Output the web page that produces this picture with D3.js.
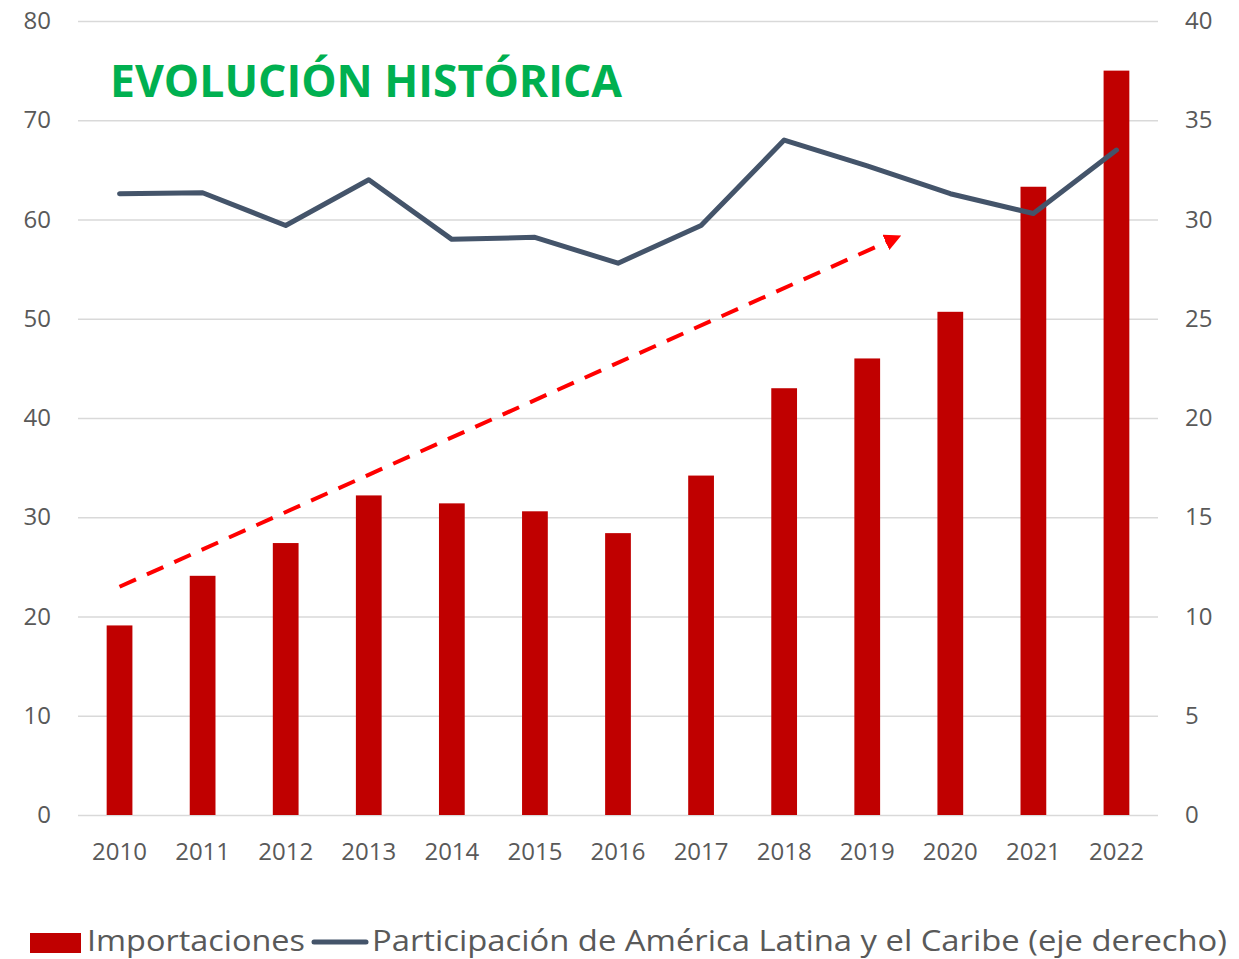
<!DOCTYPE html>
<html><head><meta charset="utf-8">
<script src="https://cdn.jsdelivr.net/npm/d3@7"></script>
<style>body{margin:0;background:#fff}svg{display:block}</style>
</head><body>
<script>
const years = ["2010","2011","2012","2013","2014","2015","2016","2017","2018","2019","2020","2021","2022"];
const importaciones = [19.1,24.1,27.4,32.2,31.4,30.6,28.4,34.2,43.0,46.0,50.7,63.3,75.0];
const participacion = [31.3,31.35,29.7,32.0,29.0,29.1,27.8,29.7,34.0,32.7,31.3,30.3,33.5];
const leftTicks = [0,10,20,30,40,50,60,70,80];
const rightTicks = [0,5,10,15,20,25,30,35,40];
// trend arrow: [category index, left-axis value]
const trendStart = [0, 23.0];
const trendEnd = [9.28, 57.9];
const title = "EVOLUCIÓN HISTÓRICA";
const legendLabels = ["Importaciones","Participación de América Latina y el Caribe (eje derecho)"];

const W = 1239, H = 959;
const m = {left:78, right:81, top:21, bottom:144};
const svg = d3.select("body").append("svg").attr("width",W).attr("height",H);
const x = d3.scaleBand().domain(years).range([m.left, W-m.right]).paddingInner(0.69).paddingOuter(0.345);
const xi = d3.scaleLinear().domain([0, years.length-1]).range([x(years[0])+x.bandwidth()/2, x(years[years.length-1])+x.bandwidth()/2]);
const yL = d3.scaleLinear().domain([0,80]).range([H-m.bottom, m.top]);
const yR = d3.scaleLinear().domain([0,40]).range([H-m.bottom, m.top]);
const font = "'Open Sans', 'Liberation Sans', sans-serif";
const txt = "#595959";

// gridlines
svg.append("g").attr("class","grid")
  .call(d3.axisLeft(yL).tickValues(leftTicks).tickSize(-(W-m.left-m.right)).tickFormat(""))
  .attr("transform",`translate(${m.left},0)`)
  .call(g=>g.select(".domain").remove())
  .call(g=>g.selectAll("line").attr("stroke","#d9d9d9").attr("stroke-width",1.5));

// left axis
svg.append("g").attr("transform",`translate(${m.left},0)`)
  .call(d3.axisLeft(yL).tickValues(leftTicks).tickSize(0).tickPadding(27))
  .call(g=>g.select(".domain").remove())
  .call(g=>g.selectAll("text").attr("fill",txt).attr("font-size",24).attr("font-family",font));
// right axis
svg.append("g").attr("transform",`translate(${W-m.right},0)`)
  .call(d3.axisRight(yR).tickValues(rightTicks).tickSize(0).tickPadding(27))
  .call(g=>g.select(".domain").remove())
  .call(g=>g.selectAll("text").attr("fill",txt).attr("font-size",24).attr("font-family",font));
// x axis
svg.append("g").attr("transform",`translate(0,${H-m.bottom})`)
  .call(d3.axisBottom(x).tickSize(0).tickPadding(28))
  .call(g=>g.select(".domain").remove())
  .call(g=>g.selectAll("text").attr("fill",txt).attr("font-size",24).attr("font-family",font));

// bars
svg.append("g").selectAll("rect").data(importaciones).join("rect")
  .attr("x",(d,i)=>x(years[i])).attr("width",x.bandwidth())
  .attr("y",d=>yL(d)).attr("height",d=>yL(0)-yL(d))
  .attr("fill","#c00000");

// line
const line = d3.line().x((d,i)=>x(years[i])+x.bandwidth()/2).y(d=>yR(d));
svg.append("path").datum(participacion).attr("d",line)
  .attr("fill","none").attr("stroke","#44546a").attr("stroke-width",5).attr("stroke-linejoin","round").attr("stroke-linecap","round");

// trend arrow
svg.append("defs").append("marker").attr("id","arr")
  .attr("viewBox","0 0 10 10").attr("refX",3).attr("refY",5)
  .attr("markerWidth",4.2).attr("markerHeight",4.2).attr("orient","auto").attr("markerUnits","strokeWidth")
  .append("path").attr("d","M0,0 L10,5 L0,10 Z").attr("fill","#ff0000");
svg.append("line")
  .attr("x1",xi(trendStart[0])).attr("y1",yL(trendStart[1]))
  .attr("x2",xi(trendEnd[0])).attr("y2",yL(trendEnd[1]))
  .attr("stroke","#ff0000").attr("stroke-width",4).attr("stroke-dasharray","18,12")
  .attr("marker-end","url(#arr)");

// title
svg.append("text").attr("x",110).attr("y",97).text(title)
  .attr("fill","#00b050").attr("font-weight","bold").attr("font-size",44)
  .attr("font-family",font).attr("textLength",512).attr("lengthAdjust","spacingAndGlyphs");

// legend
const ly = 942;
svg.append("rect").attr("x",30).attr("y",933).attr("width",51).attr("height",20).attr("fill","#c00000");
svg.append("text").attr("x",87).attr("y",ly+9).text(legendLabels[0])
  .attr("fill",txt).attr("font-size",29).attr("font-family",font)
  .attr("textLength",218).attr("lengthAdjust","spacingAndGlyphs");
svg.append("line").attr("x1",314).attr("x2",366).attr("y1",ly).attr("y2",ly)
  .attr("stroke","#44546a").attr("stroke-width",5).attr("stroke-linecap","round");
svg.append("text").attr("x",372).attr("y",ly+9).text(legendLabels[1])
  .attr("fill",txt).attr("font-size",29).attr("font-family",font)
  .attr("textLength",855).attr("lengthAdjust","spacingAndGlyphs");
</script>
</body></html>
